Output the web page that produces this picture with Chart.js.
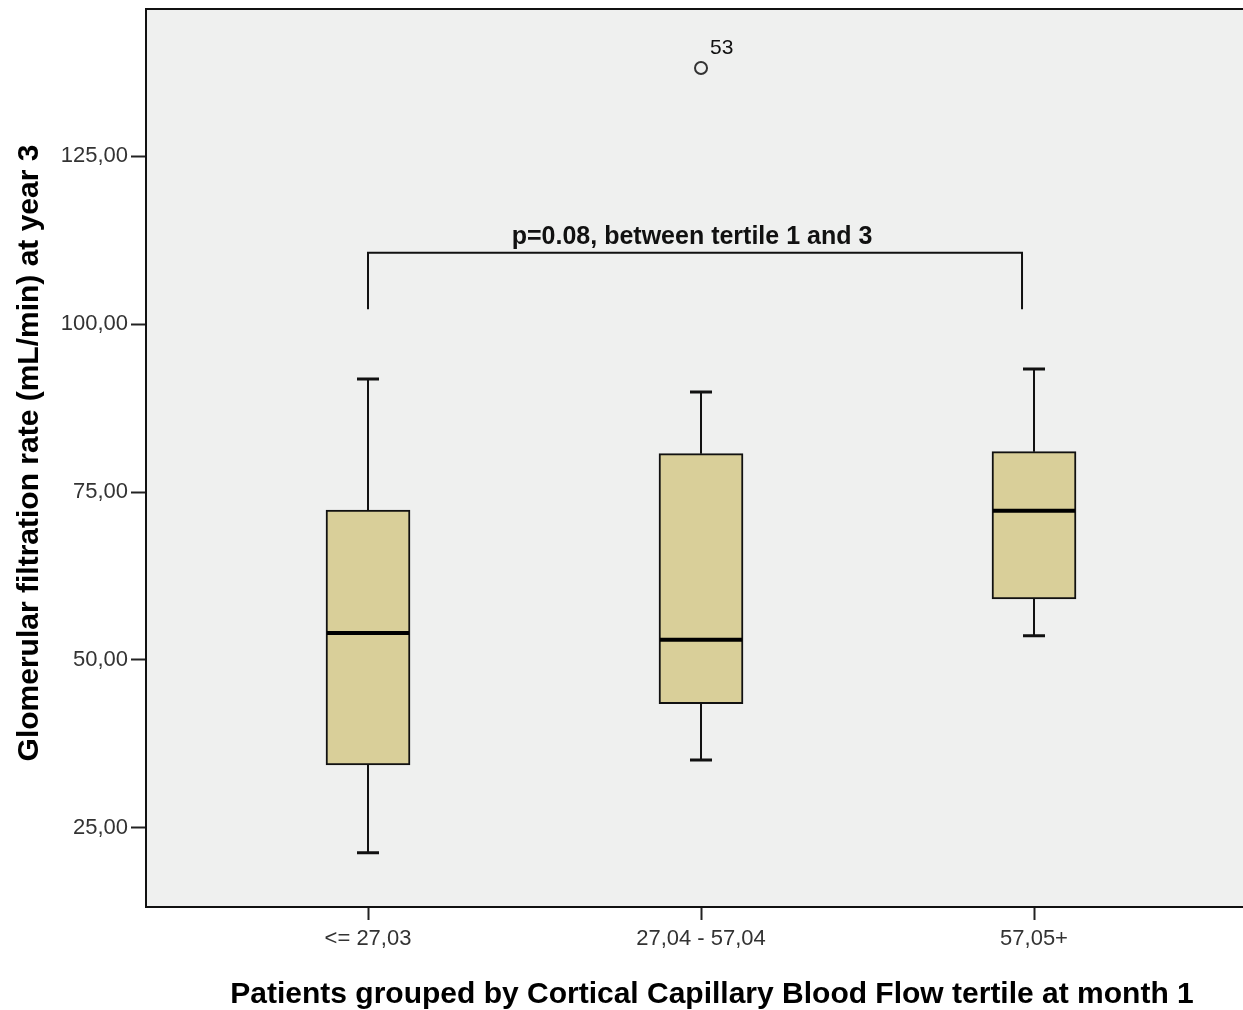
<!DOCTYPE html>
<html>
<head>
<meta charset="utf-8">
<script src="https://cdn.jsdelivr.net/npm/chart.js@4.4.1/dist/chart.umd.min.js"></script>
<style>
  html, body { margin: 0; padding: 0; background: #fff; overflow: hidden; }
  canvas { display: block; }
</style>
</head>
<body>
<canvas id="grafico" width="1243" height="1010"></canvas>
<script>
var categorias = ['<= 27,03', '27,04 - 57,04', '57,05+'];
var bigodeBaixo = [21.3, 35.1, 53.6];
var quartil1 = [34.4, 43.5, 59.1];
var mediana = [54.0, 53.0, 72.2];
var quartil3 = [72.3, 80.7, 81.0];
var bigodeAlto = [91.8, 89.9, 93.3];
var outlierGrupo = [2];
var outlierValor = [138.1];
var outlierRotulo = ['53'];
var ticksY = [25, 50, 75, 100, 125];
var textoP = 'p=0.08, between tertile 1 and 3';
var colchete = { de: 1, ate: 2.964, base: 102.2, topo: 110.6 };

var fonte = '"Liberation Sans", Arial, sans-serif';

var extrasBoxplot = {
    id: 'extrasBoxplot',
    beforeDraw: function (chart) {
        var ctx = chart.ctx, a = chart.chartArea;
        ctx.save();
        ctx.fillStyle = '#fff';
        ctx.fillRect(0, 0, chart.width, chart.height);
        ctx.fillStyle = '#eff0ef';
        ctx.fillRect(a.left, a.top, a.right - a.left, a.bottom - a.top);
        ctx.restore();
    },
    beforeDatasetsDraw: function (chart) {
        var ctx = chart.ctx, x = chart.scales.x, y = chart.scales.y;
        ctx.save();
        ctx.strokeStyle = '#111';
        for (var i = 0; i < categorias.length; i++) {
            var px = x.getPixelForValue(i + 1);
            ctx.lineWidth = 2;
            ctx.beginPath();
            ctx.moveTo(px, y.getPixelForValue(quartil3[i]));
            ctx.lineTo(px, y.getPixelForValue(bigodeAlto[i]));
            ctx.moveTo(px, y.getPixelForValue(quartil1[i]));
            ctx.lineTo(px, y.getPixelForValue(bigodeBaixo[i]));
            ctx.stroke();
            ctx.lineWidth = 3;
            ctx.beginPath();
            ctx.moveTo(px - 11, y.getPixelForValue(bigodeAlto[i]));
            ctx.lineTo(px + 11, y.getPixelForValue(bigodeAlto[i]));
            ctx.moveTo(px - 11, y.getPixelForValue(bigodeBaixo[i]));
            ctx.lineTo(px + 11, y.getPixelForValue(bigodeBaixo[i]));
            ctx.stroke();
        }
        ctx.restore();
    },
    afterDatasetsDraw: function (chart) {
        var ctx = chart.ctx, x = chart.scales.x, y = chart.scales.y, a = chart.chartArea;
        ctx.save();
        // medianas
        ctx.strokeStyle = '#000';
        ctx.lineWidth = 4;
        for (var i = 0; i < categorias.length; i++) {
            var px = x.getPixelForValue(i + 1);
            var py = y.getPixelForValue(mediana[i]);
            ctx.beginPath();
            ctx.moveTo(px - 41, py);
            ctx.lineTo(px + 41, py);
            ctx.stroke();
        }
        // borda de cima
        ctx.lineWidth = 2;
        ctx.strokeStyle = '#111';
        ctx.beginPath();
        ctx.moveTo(a.left, a.top);
        ctx.lineTo(a.right, a.top);
        ctx.stroke();
        // colchete da comparação
        var x1 = x.getPixelForValue(colchete.de), x2 = x.getPixelForValue(colchete.ate);
        var yb = y.getPixelForValue(colchete.base), yt = y.getPixelForValue(colchete.topo);
        ctx.beginPath();
        ctx.moveTo(x1, yb);
        ctx.lineTo(x1, yt);
        ctx.lineTo(x2, yt);
        ctx.lineTo(x2, yb);
        ctx.stroke();
        ctx.fillStyle = '#111';
        ctx.font = 'bold 25px ' + fonte;
        ctx.textAlign = 'center';
        ctx.textBaseline = 'alphabetic';
        ctx.fillText(textoP, (x1 + x2) / 2 - 3, yt - 9);
        // rótulos dos outliers
        ctx.font = '21px ' + fonte;
        ctx.textAlign = 'left';
        for (var k = 0; k < outlierValor.length; k++) {
            ctx.fillText(outlierRotulo[k], x.getPixelForValue(outlierGrupo[k]) + 9, y.getPixelForValue(outlierValor[k]) - 14);
        }
        ctx.restore();
    },
    afterDraw: function (chart) {
        var ctx = chart.ctx;
        ctx.save();
        ctx.fillStyle = '#000';
        ctx.font = 'bold 30px ' + fonte;
        ctx.textAlign = 'center';
        ctx.textBaseline = 'alphabetic';
        ctx.fillText('Patients grouped by Cortical Capillary Blood Flow tertile at month 1', 712, 1003);
        ctx.translate(38, 453);
        ctx.rotate(-Math.PI / 2);
        ctx.fillText('Glomerular filtration rate (mL/min) at year 3', 0, 0);
        ctx.restore();
    }
};

var ctx = document.getElementById('grafico').getContext('2d');
var grafico = new Chart(ctx, {
    type: 'bar',
    data: {
        datasets: [{
            label: 'caixas',
            data: categorias.map(function (c, i) { return { x: i + 1, y: [quartil1[i], quartil3[i]] }; }),
            backgroundColor: '#d9cf99',
            borderColor: '#111',
            borderWidth: 2,
            borderSkipped: false,
            barThickness: 84
        }, {
            type: 'scatter',
            label: 'outliers',
            data: outlierValor.map(function (v, k) { return { x: outlierGrupo[k], y: v }; }),
            pointStyle: 'circle',
            pointRadius: 6,
            borderWidth: 2,
            borderColor: '#333',
            backgroundColor: 'rgba(0,0,0,0)'
        }]
    },
    options: {
        responsive: false,
        animation: false,
        events: [],
        layout: { autoPadding: false, padding: { top: 9, left: 0, right: 0, bottom: 0 } },
        plugins: { legend: { display: false }, tooltip: { enabled: false } },
        scales: {
            x: {
                type: 'linear',
                offset: false,
                min: 0.3333,
                max: 3.6276,
                afterBuildTicks: function (scale) {
                    scale.ticks = categorias.map(function (c, i) { return { value: i + 1 }; });
                },
                afterFit: function (scale) {
                    scale.height = 103;
                    scale.paddingLeft = 0;
                    scale.paddingRight = 0;
                },
                ticks: {
                    callback: function (v) { return categorias[v - 1]; },
                    color: '#333',
                    font: { family: fonte, size: 22 },
                    padding: 6,
                    maxRotation: 0,
                    autoSkip: false
                },
                grid: { offset: false, drawOnChartArea: false, tickLength: 13, tickColor: '#222', tickWidth: 2 },
                border: { color: '#111', width: 2 }
            },
            y: {
                min: 13.24,
                max: 146.88,
                afterBuildTicks: function (scale) {
                    scale.ticks = ticksY.map(function (v) { return { value: v }; });
                },
                afterFit: function (scale) {
                    scale.width = 146;
                    scale.paddingTop = 0;
                    scale.paddingBottom = 0;
                },
                ticks: {
                    callback: function (v) { return v.toFixed(2).replace('.', ','); },
                    color: '#333',
                    font: { family: fonte, size: 22 },
                    padding: 3
                },
                grid: { drawOnChartArea: false, tickLength: 15, tickColor: '#222', tickWidth: 2 },
                border: { color: '#111', width: 2 }
            }
        }
    },
    plugins: [extrasBoxplot]
});
</script>
</body>
</html>
